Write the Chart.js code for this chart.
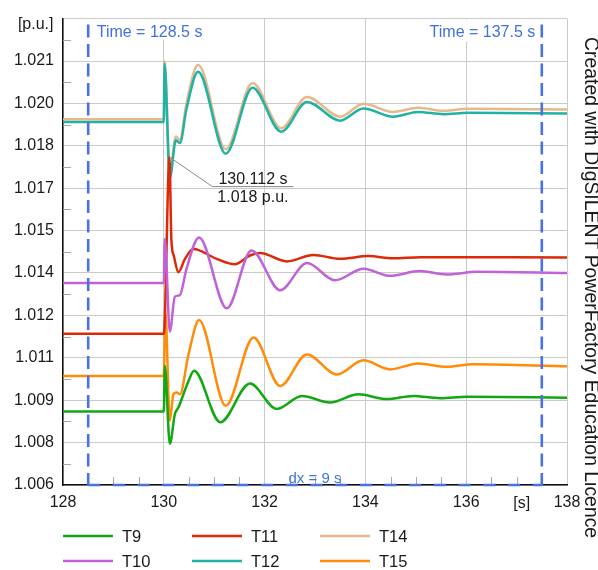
<!DOCTYPE html>
<html>
<head>
<meta charset="utf-8">
<script src="https://cdn.jsdelivr.net/npm/chart.js@4.4.0/dist/chart.umd.min.js"></script>
<style>
  body { margin: 0; background: #fff; }
  #wrap { width: 598px; height: 570px; }
</style>
</head>
<body>
<div id="wrap"><canvas id="chart" width="598" height="570"></canvas></div>
<script>
// terminal voltages after the 130 s event, in p.u.
const t9  = [128, 130.0, 130.02, 130.12, 130.22, 130.29, 130.49, 130.60, 131.12, 131.71, 132.24, 132.74, 133.30, 133.86, 134.42, 134.95, 135.48, 136.01, 138];
const v9  = [1.0086, 1.0086, 1.01021, 1.00746, 1.00851, 1.00874, 1.00968, 1.01004, 1.00822, 1.00959, 1.00869, 1.00915, 1.00892, 1.00921, 1.00904, 1.00915, 1.00907, 1.00912, 1.00909];

const t10 = [128, 130.0, 130.02, 130.12, 130.22, 130.32, 130.45, 130.70, 131.25, 131.74, 132.31, 132.84, 133.40, 133.96, 134.49, 135.08, 135.61, 136.21, 138];
const v10 = [1.01315, 1.01315, 1.0147, 1.01143, 1.01266, 1.01272, 1.01365, 1.01476, 1.01225, 1.0143, 1.01289, 1.01385, 1.01324, 1.01365, 1.0134, 1.01357, 1.01345, 1.01354, 1.0135];

const t11 = [128, 130.0, 130.112, 130.15, 130.2, 130.29, 130.42, 130.585, 131.05, 131.41, 131.71, 131.91, 132.44, 132.97, 133.5, 134.06, 134.55, 135.1, 138];
const v11 = [1.01135, 1.01135, 1.0176, 1.0147, 1.0141, 1.01353, 1.0140, 1.01435, 1.0140, 1.01381, 1.01412, 1.01421, 1.01391, 1.01414, 1.0140, 1.0141, 1.01402, 1.01406, 1.01405];

const t12 = [128, 130.0, 130.015, 130.12, 130.24, 130.32, 130.45, 130.68, 131.23, 131.76, 132.33, 132.84, 133.5, 133.96, 134.55, 135.05, 135.55, 136.04, 138];
const v12 = [1.01884, 1.01884, 1.0209, 1.01686, 1.0182, 1.0181, 1.0193, 1.02062, 1.01772, 1.02005, 1.0185, 1.01955, 1.01889, 1.01932, 1.01903, 1.0192, 1.01912, 1.01917, 1.01914];

const t14 = [128, 130.0, 130.015, 130.12, 130.24, 130.32, 130.45, 130.68, 131.23, 131.76, 132.33, 132.84, 133.5, 133.96, 134.55, 135.05, 135.55, 136.04, 138];
const v14 = [1.01894, 1.01894, 1.0210, 1.0171, 1.01833, 1.01821, 1.0195, 1.02087, 1.01788, 1.02022, 1.01862, 1.01973, 1.01903, 1.01949, 1.0192, 1.01935, 1.01924, 1.01931, 1.01928];

const t15 = [128, 130.0, 130.03, 130.12, 130.19, 130.26, 130.32, 130.49, 130.70, 131.23, 131.78, 132.31, 132.84, 133.43, 133.96, 134.49, 135.05, 135.61, 136.14, 138];
const v15 = [1.009855, 1.009855, 1.01211, 1.00828, 1.00921, 1.00927, 1.00921, 1.01062, 1.01184, 1.0088, 1.01122, 1.0095, 1.01062, 1.00991, 1.01041, 1.01009, 1.0103, 1.01018, 1.01027, 1.0102];

const seriesNames  = ['T9', 'T10', 'T11', 'T12', 'T14', 'T15'];
const seriesColors = ['#12a812', '#c062d8', '#dc2a08', '#22b2a4', '#e4b98c', '#ff8c0a'];

// axis ticks
const xTickValues = [128, 130, 132, 134, 136, 138];
const xTickLabels = ['128', '130', '132', '134', '136', '138'];
const yTickValues = [1.006, 1.0075, 1.009, 1.0105, 1.012, 1.0135, 1.015, 1.0165, 1.018, 1.0195, 1.021, 1.0225];
const yTickLabels = ['1.006', '1.008', '1.009', '1.011', '1.012', '1.014', '1.015', '1.017', '1.018', '1.020', '1.021', ''];

// cursors and the marked peak of T11
const cursorA = 128.5;
const cursorB = 137.5;
const peakTime = 130.112;
const peakValue = 1.0176;

const FONT = '"Liberation Sans", Arial, sans-serif';

function pairs(ts, vs) {
  return ts.map((t, i) => ({ x: t, y: vs[i] }));
}

const seriesData = [pairs(t9, v9), pairs(t10, v10), pairs(t11, v11), pairs(t12, v12), pairs(t14, v14), pairs(t15, v15)];

const yMinor = yTickValues.slice(0, -1).map(v => v + 0.00075);
const xMinor = [];
for (let t = 128.5; t < 138; t += 0.5) {
  if (Math.abs(t / 2 - Math.round(t / 2)) > 1e-6) xMinor.push(t);
}

const overlay = {
  id: 'overlay',
  afterDatasetsDraw(chart) {
    const { ctx, chartArea: area, scales: { x, y } } = chart;
    ctx.save();

    // small inner ticks
    ctx.strokeStyle = '#a8a8a8';
    ctx.lineWidth = 1;
    ctx.beginPath();
    yMinor.forEach(v => {
      const py = Math.round(y.getPixelForValue(v)) + 0.5;
      ctx.moveTo(area.left, py);
      ctx.lineTo(area.left + 8, py);
    });
    xMinor.forEach(t => {
      const px = Math.round(x.getPixelForValue(t)) + 0.5;
      ctx.moveTo(px, area.bottom);
      ctx.lineTo(px, area.bottom - 8);
    });
    ctx.stroke();

    // cursor captions
    const xa = x.getPixelForValue(cursorA);
    const xb = x.getPixelForValue(cursorB);
    ctx.font = '16px ' + FONT;
    ctx.textBaseline = 'alphabetic';
    const capA = 'Time = ' + cursorA.toFixed(1) + ' s';
    const capB = 'Time = ' + cursorB.toFixed(1) + ' s';
    const wA = ctx.measureText(capA).width;
    const wB = ctx.measureText(capB).width;
    ctx.fillStyle = '#fff';
    ctx.fillRect(xa + 4, area.top + 1, wA + 8, 20);
    ctx.fillRect(xb - wB - 12, area.top + 1, wB + 8, 22);
    ctx.fillStyle = '#4270dd';
    ctx.textAlign = 'left';
    ctx.fillText(capA, xa + 8.5, area.top + 18.7);
    ctx.textAlign = 'right';
    ctx.fillText(capB, xb - 6.5, area.top + 18.7);

    // cursor lines
    ctx.strokeStyle = '#4a72e2';
    ctx.lineWidth = 2.6;
    ctx.setLineDash([13, 6.5]);
    ctx.lineDashOffset = -6;
    ctx.beginPath();
    ctx.moveTo(xa, area.top);
    ctx.lineTo(xa, area.bottom);
    ctx.moveTo(xb, area.top);
    ctx.lineTo(xb, area.bottom);
    ctx.stroke();
    ctx.setLineDash([12, 12.7]);
    ctx.lineDashOffset = 0;
    ctx.beginPath();
    ctx.moveTo(xa, area.bottom);
    ctx.lineTo(xb, area.bottom);
    ctx.stroke();
    ctx.setLineDash([]);

    ctx.fillStyle = '#3f78d8';
    ctx.font = '15px ' + FONT;
    ctx.textAlign = 'center';
    ctx.fillText('dx = ' + (cursorB - cursorA) + ' s', (xa + xb) / 2, area.bottom - 2);

    // callout for the T11 peak
    const px = x.getPixelForValue(peakTime);
    const py = y.getPixelForValue(peakValue);
    const lx = px + 43, ly = py + 29.5;
    ctx.strokeStyle = '#8a8a8a';
    ctx.lineWidth = 1;
    ctx.beginPath();
    ctx.moveTo(px, py);
    ctx.lineTo(lx, ly);
    ctx.lineTo(lx + 81, ly);
    ctx.stroke();
    ctx.fillStyle = '#1a1a1a';
    ctx.font = '16px ' + FONT;
    ctx.textAlign = 'center';
    ctx.fillText(peakTime.toFixed(3) + ' s', lx + 40.5, ly - 3);
    ctx.fillText(peakValue.toFixed(3) + ' p.u.', lx + 40.5, ly + 15);

    ctx.restore();
  },
  afterDraw(chart) {
    const { ctx, chartArea: area, scales: { x } } = chart;
    ctx.save();
    ctx.fillStyle = '#1a1a1a';
    ctx.font = '16px ' + FONT;
    ctx.textBaseline = 'alphabetic';

    // units
    ctx.textAlign = 'right';
    ctx.fillText('[p.u.]', 53.5, 28.5);
    ctx.textAlign = 'center';
    ctx.fillText('[s]', x.getPixelForValue(137.1), area.bottom + 23);

    // licence note along the right edge
    ctx.save();
    ctx.translate(585, 37);
    ctx.rotate(Math.PI / 2);
    ctx.font = '19.4px ' + FONT;
    ctx.textAlign = 'left';
    ctx.fillText('Created with DIgSILENT PowerFactory Education Licence', 0, 0);
    ctx.restore();

    // legend, three columns of two
    const colX = [63, 192, 320];
    const rowY = [536, 561];
    ctx.font = '16.5px ' + FONT;
    ctx.textAlign = 'left';
    ctx.textBaseline = 'middle';
    seriesNames.forEach((name, i) => {
      const cx = colX[Math.floor(i / 2)];
      const cy = rowY[i % 2];
      ctx.strokeStyle = seriesColors[i];
      ctx.lineWidth = 2.5;
      ctx.beginPath();
      ctx.moveTo(cx, cy);
      ctx.lineTo(cx + 50, cy);
      ctx.stroke();
      ctx.fillStyle = '#1a1a1a';
      ctx.fillText(name, cx + 59, cy + 1);
    });
    ctx.restore();
  }
};

Chart.defaults.font.family = FONT;
Chart.defaults.color = '#1a1a1a';

new Chart(document.getElementById('chart'), {
  type: 'line',
  data: {
    datasets: seriesNames.map((name, i) => ({
      label: name,
      data: seriesData[i],
      borderColor: seriesColors[i],
      borderWidth: 2.5,
      pointRadius: 0,
      fill: false,
      cubicInterpolationMode: 'monotone',
      borderJoinStyle: 'round'
    }))
  },
  options: {
    responsive: false,
    animation: false,
    events: [],
    layout: { padding: { left: 0, right: 31, top: 13, bottom: 0 } },
    plugins: { legend: { display: false }, tooltip: { enabled: false } },
    scales: {
      x: {
        type: 'linear',
        min: 128,
        max: 138,
        afterBuildTicks: axis => { axis.ticks = xTickValues.map(v => ({ value: v })); },
        afterFit: axis => { axis.height = 85; },
        ticks: {
          callback: (val, i) => xTickLabels[i],
          font: { size: 16 },
          padding: 8,
          maxRotation: 0,
          autoSkip: false
        },
        grid: { color: '#cacaca', lineWidth: 1, drawTicks: false },
        border: { color: '#111', width: 1.5 }
      },
      y: {
        type: 'linear',
        min: 1.006,
        max: 1.0225,
        afterBuildTicks: axis => { axis.ticks = yTickValues.map(v => ({ value: v })); },
        afterFit: axis => { axis.width = 63; },
        ticks: {
          callback: (val, i) => yTickLabels[i],
          font: { size: 16 },
          padding: 9,
          autoSkip: false
        },
        grid: { color: '#cacaca', lineWidth: 1, drawTicks: false },
        border: { color: '#111', width: 1.5 }
      }
    }
  },
  plugins: [overlay]
});
</script>
</body>
</html>
